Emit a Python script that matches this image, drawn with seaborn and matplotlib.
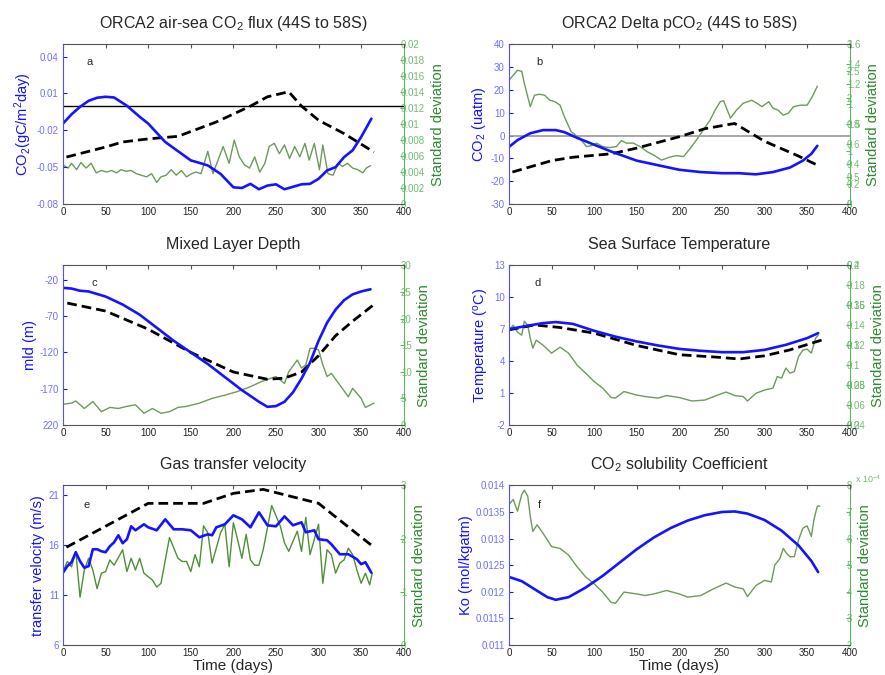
import matplotlib
matplotlib.use("Agg")
import matplotlib.pyplot as plt
import seaborn as sns
import numpy as np

# ---------------- data ----------------
# Panel a: air-sea CO2 flux
a_days = [0, 10, 20, 30, 40, 50, 60, 75, 90, 100, 110, 120, 135, 150, 160, 170, 185, 200, 210, 220, 230, 240,
          250, 260, 270, 280, 290, 300, 310, 320, 330, 340, 350, 362]
a_flux = [-0.0145, -0.007, -0.0009, 0.004, 0.0065, 0.0073, 0.0067, 0.0, -0.009, -0.0145, -0.022, -0.0295,
          -0.037, -0.0445, -0.0465, -0.0486, -0.0555, -0.0664, -0.067, -0.0636, -0.068, -0.065,
          -0.064, -0.068, -0.066, -0.064, -0.0636, -0.0595, -0.0527, -0.050, -0.0418, -0.0363, -0.0255, -0.0105]
a_dash_days = [4, 50, 70, 100, 135, 180, 220, 240, 265, 280, 300, 330, 365]
a_dash = [-0.0418, -0.0336, -0.0295, -0.027, -0.0249, -0.0132, -0.0003, 0.0073, 0.0114, -0.0003, -0.0118, -0.0227, -0.0377]
a_sd_days = [0, 6, 10, 16, 21, 27, 33, 39, 45, 51, 57, 63, 68, 74, 80, 86, 92, 98, 104, 110, 115, 121, 127, 133,
             139, 145, 151, 156, 162, 170, 176, 182, 188, 195, 201, 207, 213, 219, 225, 231, 237, 242, 248, 254,
             260, 266, 272, 278, 284, 289, 295, 301, 305, 311, 317, 323, 328, 334, 340, 346, 352, 356, 361]
a_sd = [0.0049, 0.0045, 0.0051, 0.0043, 0.0052, 0.0045, 0.0051, 0.0039, 0.0042, 0.0040, 0.0042, 0.0039, 0.0043,
        0.0041, 0.0042, 0.0038, 0.0036, 0.0034, 0.0038, 0.0027, 0.0034, 0.0036, 0.0043, 0.0036, 0.0042, 0.0034,
        0.0038, 0.0040, 0.0038, 0.0066, 0.0038, 0.0055, 0.0072, 0.0051, 0.0080, 0.0059, 0.0049, 0.0045, 0.0059,
        0.0040, 0.0051, 0.0072, 0.0076, 0.0063, 0.0074, 0.0057, 0.0072, 0.0059, 0.0076, 0.0055, 0.0076, 0.0043,
        0.0074, 0.0038, 0.0036, 0.0051, 0.0047, 0.0051, 0.0045, 0.0043, 0.0039, 0.0045, 0.0048]

# Panel b: Delta pCO2
b_days = [0, 10, 25, 40, 55, 65, 80, 100, 120, 150, 175, 200, 225, 250, 270, 290, 310, 330, 345, 355, 362]
b_pco2 = [-5, -2, 1, 2.4, 2.4, 1.5, -1, -4, -7, -11, -13, -15, -16, -16.5, -16.5, -17, -16, -14, -11, -8, -4.5]
b_dash_days = [4, 50, 75, 120, 150, 200, 230, 260, 265, 300, 340, 365]
b_dash = [-16, -11, -9.5, -8, -5.5, -0.5, 3, 5, 5.3, -2.5, -9, -13.5]
b_sd_days = [0, 5, 10, 15, 18, 25, 30, 36, 42, 48, 54, 60, 65, 73, 83, 91, 97, 103, 110, 118, 126, 132, 138, 146,
             154, 162, 170, 179, 189, 197, 205, 213, 220, 228, 236, 242, 248, 252, 260, 267, 275, 285, 291, 297,
             305, 310, 316, 322, 328, 334, 342, 350, 356, 362]
b_sd = [1.24, 1.29, 1.34, 1.33, 1.21, 0.975, 1.09, 1.10, 1.09, 1.04, 1.025, 0.99, 0.875, 0.725, 0.66, 0.575,
        0.585, 0.61, 0.575, 0.565, 0.575, 0.635, 0.61, 0.61, 0.575, 0.525, 0.49, 0.44, 0.47, 0.485, 0.475, 0.56,
        0.64, 0.74, 0.84, 0.94, 1.025, 1.035, 0.86, 0.94, 1.01, 1.04, 1.01, 0.975, 1.025, 0.96, 0.94, 0.89, 0.91,
        0.975, 0.99, 0.99, 1.075, 1.18]

# Panel c: mixed layer depth
c_days = [0, 10, 20, 30, 50, 70, 90, 110, 130, 150, 170, 190, 210, 230, 240, 250, 260, 270, 280, 290, 300,
          310, 320, 330, 340, 350, 361]
c_mld = [-31, -32, -35, -36, -43, -54, -68, -86, -104, -120, -136, -154, -172, -188, -195, -194, -188, -175,
         -156, -134, -104, -79, -61, -48, -40, -36, -33]
c_dash_days = [5, 50, 100, 150, 200, 240, 260, 280, 300, 320, 340, 365]
c_dash = [-52, -63, -88, -120, -147, -157, -155.5, -147, -124.5, -97, -77, -54]
c_sd_days = [0, 10, 15, 25, 35, 45, 55, 65, 75, 85, 95, 105, 115, 125, 135, 145, 160, 175, 190, 205, 220, 235,
             250, 260, 265, 275, 280, 285, 290, 295, 300, 305, 310, 315, 325, 335, 340, 350, 355, 365]
c_sd = [3.9, 4.1, 4.5, 3.1, 4.4, 2.5, 3.3, 3.1, 3.5, 3.8, 2.2, 3.1, 2.2, 2.5, 3.3, 3.5, 4.1, 5.0, 5.6, 6.3, 7.2,
        8.3, 9.1, 7.8, 10.0, 12.2, 10.7, 11.3, 14.4, 14.4, 14.1, 11.3, 9.1, 9.7, 7.5, 5.3, 6.9, 5.0, 3.3, 4.1]

# Panel d: sea surface temperature
d_days = [0, 20, 40, 55, 75, 100, 125, 150, 175, 200, 225, 250, 275, 300, 325, 350, 363]
d_sst = [7.0, 7.3, 7.57, 7.67, 7.5, 6.85, 6.3, 5.85, 5.47, 5.15, 4.97, 4.84, 4.84, 5.06, 5.53, 6.16, 6.63]
d_dash_days = [0, 30, 60, 100, 150, 200, 250, 270, 300, 330, 368]
d_dash = [6.94, 7.4, 7.16, 6.63, 5.47, 4.6, 4.34, 4.2, 4.5, 5.06, 6.0]
d_sd_days = [0, 5, 10, 15, 18, 22, 25, 28, 32, 40, 50, 60, 70, 80, 90, 100, 110, 120, 125, 135, 150, 160, 175,
             185, 200, 215, 230, 245, 255, 265, 275, 280, 290, 300, 310, 315, 320, 325, 330, 335, 340, 345, 350,
             355, 360, 363]
d_sd = [0.135, 0.14, 0.133, 0.13, 0.144, 0.14, 0.127, 0.117, 0.125, 0.12, 0.112, 0.118, 0.112, 0.100, 0.092,
        0.0835, 0.077, 0.0675, 0.067, 0.0735, 0.070, 0.0685, 0.067, 0.0695, 0.0675, 0.064, 0.065, 0.070, 0.073,
        0.0695, 0.0685, 0.064, 0.0718, 0.075, 0.077, 0.0885, 0.087, 0.097, 0.092, 0.0935, 0.1086, 0.115, 0.116,
        0.112, 0.127, 0.13]

# Panel e: gas transfer velocity
e_days = [0, 5, 10, 15, 20, 25, 30, 35, 40, 45, 50, 55, 60, 65, 70, 75, 80, 85, 95, 100, 110, 120, 130, 140,
          150, 160, 170, 175, 180, 190, 200, 210, 220, 230, 240, 250, 260, 270, 280, 285, 295, 300, 310, 315,
          325, 335, 345, 350, 355, 362]
e_kw = [13.25, 13.9, 14.3, 15.3, 14.4, 13.75, 13.9, 15.6, 15.6, 15.4, 15.3, 15.9, 16.3, 17.0, 16.2, 16.6, 17.9,
        17.5, 18.1, 17.8, 17.5, 18.6, 17.6, 17.6, 17.5, 16.8, 17.1, 17.0, 17.8, 18.1, 19.0, 18.6, 17.8, 19.3,
        18.0, 17.9, 18.9, 18.0, 18.3, 17.3, 17.5, 16.6, 16.5, 16.1, 15.1, 15.1, 14.6, 14.1, 14.3, 13.25]
e_dash_days = [4, 100, 165, 200, 235, 300, 365]
e_dash = [15.8, 20.2, 20.2, 21.2, 21.6, 20.2, 15.8]
e_sd_days = [0, 5, 10, 15, 20, 25, 30, 35, 40, 45, 50, 55, 60, 70, 75, 80, 85, 90, 95, 105, 110, 115, 125, 135,
             140, 145, 150, 155, 160, 165, 170, 175, 185, 190, 195, 200, 205, 210, 215, 220, 225, 230, 235, 245,
             255, 260, 265, 275, 280, 285, 290, 300, 305, 310, 315, 320, 325, 330, 335, 340, 345, 350, 355, 360, 363]
e_sd = [1.38, 1.57, 1.47, 1.76, 0.9, 1.41, 1.63, 1.41, 1.06, 1.35, 1.38, 1.6, 1.5, 1.79, 1.38, 1.63, 1.41, 1.63,
        1.35, 1.22, 1.09, 1.16, 2.02, 1.63, 1.57, 1.57, 1.38, 1.7, 1.47, 2.24, 2.11, 1.54, 2.11, 2.27, 1.47, 2.3,
        1.98, 1.63, 2.08, 1.6, 1.5, 1.5, 1.79, 2.62, 2.24, 1.92, 1.76, 2.14, 1.76, 2.4, 1.7, 2.27, 1.16, 1.79,
        1.7, 1.35, 1.54, 1.6, 1.82, 1.7, 1.41, 1.16, 1.35, 1.13, 1.35]

# Panel f: CO2 solubility
f_days = [0, 15, 30, 45, 55, 70, 90, 110, 130, 150, 170, 190, 210, 230, 250, 265, 280, 300, 320, 340, 355, 363]
f_ko = [0.01228, 0.0122, 0.01205, 0.0119, 0.01185, 0.0119, 0.01208, 0.0123, 0.01255, 0.0128, 0.01302, 0.0132,
        0.01334, 0.01344, 0.0135, 0.01351, 0.01347, 0.01335, 0.01315, 0.01287, 0.01258, 0.01237]
f_sd_days = [0, 5, 10, 15, 18, 22, 25, 28, 33, 40, 50, 60, 70, 80, 90, 100, 110, 120, 125, 135, 150, 160, 170,
             185, 200, 210, 225, 240, 255, 265, 275, 280, 290, 300, 308, 312, 318, 322, 326, 330, 335, 340, 345,
             350, 355, 358, 362, 365]
f_sd = [7.28, 7.47, 7.03, 7.66, 7.82, 7.6, 6.84, 6.27, 6.52, 6.2, 5.7, 5.63, 5.38, 4.94, 4.56, 4.3, 3.99, 3.6,
        3.57, 3.99, 3.92, 3.86, 3.92, 4.05, 3.92, 3.8, 3.86, 4.11, 4.33, 4.18, 4.11, 3.82, 4.24, 4.43, 4.37, 5.0,
        5.25, 5.63, 5.44, 5.32, 5.32, 5.95, 6.39, 6.48, 6.08, 6.71, 7.22, 7.22]

x_ticks = [0, 50, 100, 150, 200, 250, 300, 350, 400]

# ---------------- style ----------------
sns.set_style("white")
plt.rcParams['font.family'] = ['Liberation Sans', 'DejaVu Sans']
plt.rcParams['mathtext.fontset'] = 'custom'
plt.rcParams['mathtext.rm'] = 'Liberation Sans'
plt.rcParams['mathtext.it'] = 'Liberation Sans'

BLUE = '#1414ff'
BLUE_T = '#6f6fff'
GREEN_L = '#6e9a5a'
GREEN_E = '#4f8f35'
GREEN_AX = '#5cb85c'
GREEN_T = '#6fbf6f'
GREEN_LAB = '#2e8b2e'

TITLE_FS = 11.5
YLAB_FS = 10.5
TITLE_PAD = 12

fig = plt.figure(figsize=(8.85, 6.75), dpi=100)

L = [0.0712, 0.5751]
W = 0.385
B = [0.6978, 0.3704, 0.0444]
H = 0.2365


def setup(ax, ylim, yticks, ylabels, ylabel, bottom_label=False):
    ax.set_xlim(0, 400)
    ax.set_ylim(*ylim)
    ax.set_xticks(x_ticks)
    ax.set_xticklabels([str(t) for t in x_ticks], fontsize=7, color='#222222')
    ax.set_yticks(yticks)
    ax.set_yticklabels(ylabels, fontsize=7, color=BLUE_T)
    ax.tick_params(axis='x', direction='in', top=True, length=3, pad=2, color='#555555')
    ax.tick_params(axis='y', direction='in', left=True, right=False, length=3, pad=3, color=BLUE)
    for s in ['top', 'bottom']:
        ax.spines[s].set_color('#555555')
        ax.spines[s].set_linewidth(0.8)
    ax.spines['left'].set_color('#5050ff')
    ax.spines['right'].set_visible(False)
    ax.set_ylabel(ylabel, color=BLUE, fontsize=YLAB_FS, labelpad=2)
    ax.set_xlabel('Time (days)' if bottom_label else '', fontsize=11, labelpad=1)


def twin(ax, ylim, yticks, ylabels, label=True, spine=True):
    t = ax.twinx()
    t.set_ylim(*ylim)
    t.set_yticks(yticks)
    t.set_yticklabels(ylabels, fontsize=7, color=GREEN_T)
    t.tick_params(axis='y', direction='in', right=True, left=False, length=3, pad=-2, color=GREEN_AX)
    for s in ['top', 'bottom', 'left']:
        t.spines[s].set_visible(False)
    t.spines['right'].set_color(GREEN_AX)
    t.spines['right'].set_visible(spine)
    if label:
        t.set_ylabel('Standard deviation', color=GREEN_LAB, fontsize=YLAB_FS, labelpad=4)
    t.grid(False)
    return t


def line(ax, x, y, color, lw, dashed=False):
    sns.lineplot(x=x, y=y, ax=ax, color=color, linewidth=lw, errorbar=None,
                 linestyle='--' if dashed else '-', legend=False)
    if dashed:
        ax.lines[-1].set_dashes((3.5, 1.8))


# ---- panel a ----
ax = fig.add_axes([L[0], B[0], W, H])
t = twin(ax, (0, 0.02), np.arange(0, 0.0201, 0.002),
         ['0', '0.002', '0.004', '0.006', '0.008', '0.01', '0.012', '0.014', '0.016', '0.018', '0.02'])
line(t, a_sd_days, a_sd, GREEN_L, 1.0)
ax.set_zorder(t.get_zorder() + 1); ax.patch.set_visible(False)
ax.axhline(0, color='black', lw=1.0)
line(ax, a_dash_days, a_dash, 'black', 2.0, dashed=True)
line(ax, a_days, a_flux, BLUE, 1.9)
setup(ax, (-0.08, 0.05), [-0.08, -0.05, -0.02, 0.01, 0.04], ['-0.08', '-0.05', '-0.02', '0.01', '0.04'],
      'CO$_2$(gC/m$^2$day)')
ax.set_title('ORCA2 air-sea CO$_2$ flux (44S to 58S)', fontsize=TITLE_FS, pad=TITLE_PAD)
ax.text(0.07, 0.87, 'a', transform=ax.transAxes, fontsize=8)

# ---- panel b ----
ax = fig.add_axes([L[1], B[0], W, H])
t2 = twin(ax, (0, 3), np.arange(0, 3.01, 0.5), ['0', '0.5', '1', '1.5', '2', '2.5', '3'], label=False, spine=False)
t = twin(ax, (0, 1.6), np.arange(0, 1.601, 0.2), ['0', '0.2', '0.4', '0.6', '0.8', '1', '1.2', '1.4', '1.6'])
line(t, b_sd_days, b_sd, GREEN_L, 1.0)
ax.set_zorder(t.get_zorder() + 1); ax.patch.set_visible(False)
ax.axhline(0, color='#999999', lw=1.2)
line(ax, b_dash_days, b_dash, 'black', 2.0, dashed=True)
line(ax, b_days, b_pco2, BLUE, 1.9)
setup(ax, (-30, 40), list(range(-30, 41, 10)), [str(v) for v in range(-30, 41, 10)], 'CO$_2$ (uatm)')
ax.set_title('ORCA2 Delta pCO$_2$ (44S to 58S)', fontsize=TITLE_FS, pad=TITLE_PAD)
ax.text(0.08, 0.87, 'b', transform=ax.transAxes, fontsize=8)

# ---- panel c ----
ax = fig.add_axes([L[0], B[1], W, H])
t = twin(ax, (0, 30), list(range(0, 31, 5)), [str(v) for v in range(0, 31, 5)])
line(t, c_sd_days, c_sd, GREEN_L, 1.0)
ax.set_zorder(t.get_zorder() + 1); ax.patch.set_visible(False)
line(ax, c_dash_days, c_dash, 'black', 2.0, dashed=True)
line(ax, c_days, c_mld, BLUE, 1.9)
setup(ax, (-220, 0), [-220, -170, -120, -70, -20], ['220', '-170', '-120', '-70', '-20'], 'mld (m)')
ax.set_title('Mixed Layer Depth', fontsize=TITLE_FS, pad=TITLE_PAD)
ax.text(0.085, 0.87, 'c', transform=ax.transAxes, fontsize=8)

# ---- panel d ----
ax = fig.add_axes([L[1], B[1], W, H])
t2 = twin(ax, (0.2, 0.4), [0.2, 0.25, 0.3, 0.35, 0.4], ['0.2', '0.25', '0.3', '0.35', '0.4'], label=False, spine=False)
t = twin(ax, (0.04, 0.2), np.arange(0.04, 0.2001, 0.02),
         ['0.04', '0.06', '0.08', '0.1', '0.12', '0.14', '0.16', '0.18', '0.2'])
line(t, d_sd_days, d_sd, GREEN_L, 1.0)
ax.set_zorder(t.get_zorder() + 1); ax.patch.set_visible(False)
line(ax, d_dash_days, d_dash, 'black', 2.0, dashed=True)
line(ax, d_days, d_sst, BLUE, 1.9)
setup(ax, (-2, 13), [-2, 1, 4, 7, 10, 13], ['-2', '1', '4', '7', '10', '13'], 'Temperature ($^o$C)')
ax.set_title('Sea Surface Temperature', fontsize=TITLE_FS, pad=TITLE_PAD)
ax.text(0.075, 0.87, 'd', transform=ax.transAxes, fontsize=8)

# ---- panel e ----
ax = fig.add_axes([L[0], B[2], W, H])
t = twin(ax, (0, 3), [0, 1, 2, 3], ['0', '1', '2', '3'])
line(t, e_sd_days, e_sd, GREEN_E, 1.0)
ax.set_zorder(t.get_zorder() + 1); ax.patch.set_visible(False)
line(ax, e_dash_days, e_dash, 'black', 2.0, dashed=True)
line(ax, e_days, e_kw, BLUE, 1.9)
setup(ax, (6, 22), [6, 11, 16, 21], ['6', '11', '16', '21'], 'transfer velocity (m/s)', bottom_label=True)
ax.set_title('Gas transfer velocity', fontsize=TITLE_FS, pad=TITLE_PAD)
ax.text(0.06, 0.86, 'e', transform=ax.transAxes, fontsize=8)

# ---- panel f ----
ax = fig.add_axes([L[1], B[2], W, H])
t = twin(ax, (2, 8), list(range(2, 9)), [str(v) for v in range(2, 9)])
line(t, f_sd_days, f_sd, GREEN_L, 1.0)
t.text(1.0, 1.0, '  x 10$^{-4}$', transform=t.transAxes, fontsize=6.5, color=GREEN_T, va='bottom', ha='left')
ax.set_zorder(t.get_zorder() + 1); ax.patch.set_visible(False)
line(ax, f_days, f_ko, BLUE, 1.9)
setup(ax, (0.011, 0.014), [0.011, 0.0115, 0.012, 0.0125, 0.013, 0.0135, 0.014],
      ['0.011', '0.0115', '0.012', '0.0125', '0.013', '0.0135', '0.014'], 'Ko (mol/kgatm)', bottom_label=True)
ax.set_title('CO$_2$ solubility Coefficient', fontsize=TITLE_FS, pad=TITLE_PAD)
ax.text(0.085, 0.86, 'f', transform=ax.transAxes, fontsize=8)

fig.savefig('out.png', dpi=100, facecolor='white')
